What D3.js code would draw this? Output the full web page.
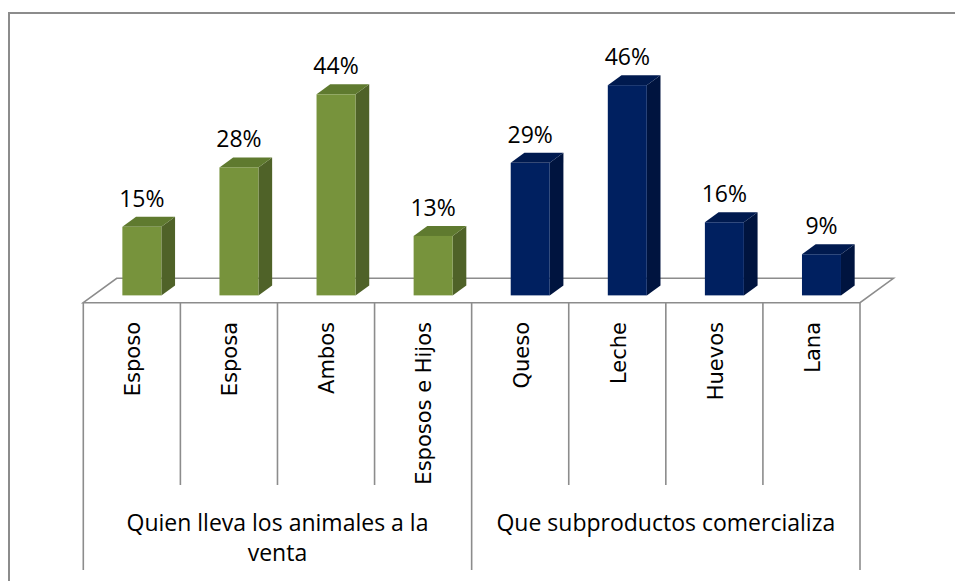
<!DOCTYPE html>
<html>
<head>
<meta charset="utf-8">
<script src="https://cdnjs.cloudflare.com/ajax/libs/d3/7.8.5/d3.min.js"></script>
<style>
  body { margin: 0; background: #fff; }
  svg { display: block; }
</style>
</head>
<body>
<div id="chart"></div>
<script>
// chart data
var categories = ["Esposo", "Esposa", "Ambos", "Esposos e Hijos", "Queso", "Leche", "Huevos", "Lana"];
var values = [15, 28, 44, 13, 29, 46, 16, 9];
var groupOf = [0, 0, 0, 0, 1, 1, 1, 1];
var groups = [["Quien lleva los animales a la", "venta"], ["Que subproductos comercializa"]];

var svgWidth = 955;
var svgHeight = 581;

// colours per group: front, side, top
var faceColors = [
  { front: "#77933c", side: "#4f6228", top: "#5f7a2f" },
  { front: "#002060", side: "#00143f", top: "#001a4f" }
];

var svg = d3.select("#chart")
  .append("svg")
  .attr("width", svgWidth)
  .attr("height", svgHeight);

// outer border (only top and left visible)
svg.append("path")
  .attr("d", "M9,581 L9,13 L955,13")
  .attr("fill", "none")
  .attr("stroke", "#8c8c8c")
  .attr("stroke-width", 2);

// floor geometry
var floorLeft = 83.3, floorRight = 860, floorFront = 302.7;
var depth = { dx: 33.4, dy: -24.4 };
var barFrontFrac = 0.3, barBackFrac = 0.71;
var barWidth = 39;

var x = d3.scaleBand()
  .domain(categories)
  .range([floorLeft, floorRight])
  .padding(0);

var barBase = floorFront + depth.dy * barFrontFrac;
var y = d3.scaleLinear()
  .domain([0, 50])
  .range([barBase, barBase - 50 * 4.57]);

// floor
svg.append("path")
  .attr("d", "M" + floorLeft + "," + floorFront +
    " L" + (floorLeft + depth.dx) + "," + (floorFront + depth.dy) +
    " L" + (floorRight + depth.dx) + "," + (floorFront + depth.dy) +
    " L" + floorRight + "," + floorFront + " Z")
  .attr("fill", "#fff")
  .attr("stroke", "#8c8c8c")
  .attr("stroke-width", 1.6);

// axis table lines
var lineColor = "#8c8c8c";
var axisG = svg.append("g")
  .attr("stroke", lineColor)
  .attr("stroke-width", 1.6);

categories.forEach(function(c, i) {
  if (i === 0) return;
  var bottom = groupOf[i] !== groupOf[i - 1] ? 570 : 485;
  axisG.append("line")
    .attr("x1", x(c)).attr("x2", x(c))
    .attr("y1", floorFront).attr("y2", bottom);
});
axisG.append("line")
  .attr("x1", floorLeft).attr("x2", floorLeft)
  .attr("y1", floorFront).attr("y2", 570);
axisG.append("line")
  .attr("x1", floorRight).attr("x2", floorRight)
  .attr("y1", floorFront).attr("y2", 570);

// 3D bars
var sdx = depth.dx * (barBackFrac - barFrontFrac);
var sdy = depth.dy * (barBackFrac - barFrontFrac);

var bars = svg.selectAll(".bar")
  .data(values)
  .enter()
  .append("g")
  .attr("class", "bar");

function frontX(d, i) {
  return x(categories[i]) + depth.dx * barFrontFrac + (x.bandwidth() - barWidth) / 2;
}

bars.append("path")
  .attr("fill", (d, i) => faceColors[groupOf[i]].side)
  .attr("d", function(d, i) {
    var x0 = frontX(d, i) + barWidth, top = y(d), bot = y(0);
    return "M" + x0 + "," + bot + " L" + x0 + "," + top +
      " L" + (x0 + sdx) + "," + (top + sdy) + " L" + (x0 + sdx) + "," + (bot + sdy) + " Z";
  });

bars.append("path")
  .attr("fill", (d, i) => faceColors[groupOf[i]].top)
  .attr("d", function(d, i) {
    var x0 = frontX(d, i), top = y(d);
    return "M" + x0 + "," + top + " L" + (x0 + sdx) + "," + (top + sdy) +
      " L" + (x0 + barWidth + sdx) + "," + (top + sdy) + " L" + (x0 + barWidth) + "," + top + " Z";
  });

bars.append("rect")
  .attr("x", (d, i) => frontX(d, i))
  .attr("y", d => y(d))
  .attr("width", barWidth)
  .attr("height", d => y(0) - y(d))
  .attr("fill", (d, i) => faceColors[groupOf[i]].front);

// value labels
svg.selectAll(".valLabel")
  .data(values)
  .enter()
  .append("text")
  .attr("class", "valLabel")
  .attr("x", (d, i) => frontX(d, i) + barWidth / 2)
  .attr("y", d => y(d) - 20)
  .attr("text-anchor", "middle")
  .attr("font-family", "'Open Sans', sans-serif")
  .attr("font-size", "23px")
  .attr("fill", "#000")
  .text(d => d + "%");

// category labels (rotated)
svg.selectAll(".catLabel")
  .data(categories)
  .enter()
  .append("text")
  .attr("class", "catLabel")
  .attr("transform", d => "translate(" + (x(d) + x.bandwidth() / 2 + 1) + ",322) rotate(-90)")
  .attr("text-anchor", "end")
  .attr("dy", "0.35em")
  .attr("font-family", "'DejaVu Sans', sans-serif")
  .attr("font-size", "21px")
  .attr("fill", "#000")
  .text(d => d);

// group labels
groups.forEach(function(lines, g) {
  var idx = groupOf.map((v, i) => v === g ? i : -1).filter(i => i >= 0);
  var gx0 = x(categories[idx[0]]);
  var gx1 = x(categories[idx[idx.length - 1]]) + x.bandwidth();
  var t = svg.append("text")
    .attr("text-anchor", "middle")
    .attr("font-family", "'Open Sans', sans-serif")
    .attr("font-size", "23px")
    .attr("fill", "#000");
  lines.forEach(function(line, j) {
    t.append("tspan")
      .attr("x", (gx0 + gx1) / 2)
      .attr("y", 531 + j * 30)
      .text(line);
  });
});
</script>
</body>
</html>
